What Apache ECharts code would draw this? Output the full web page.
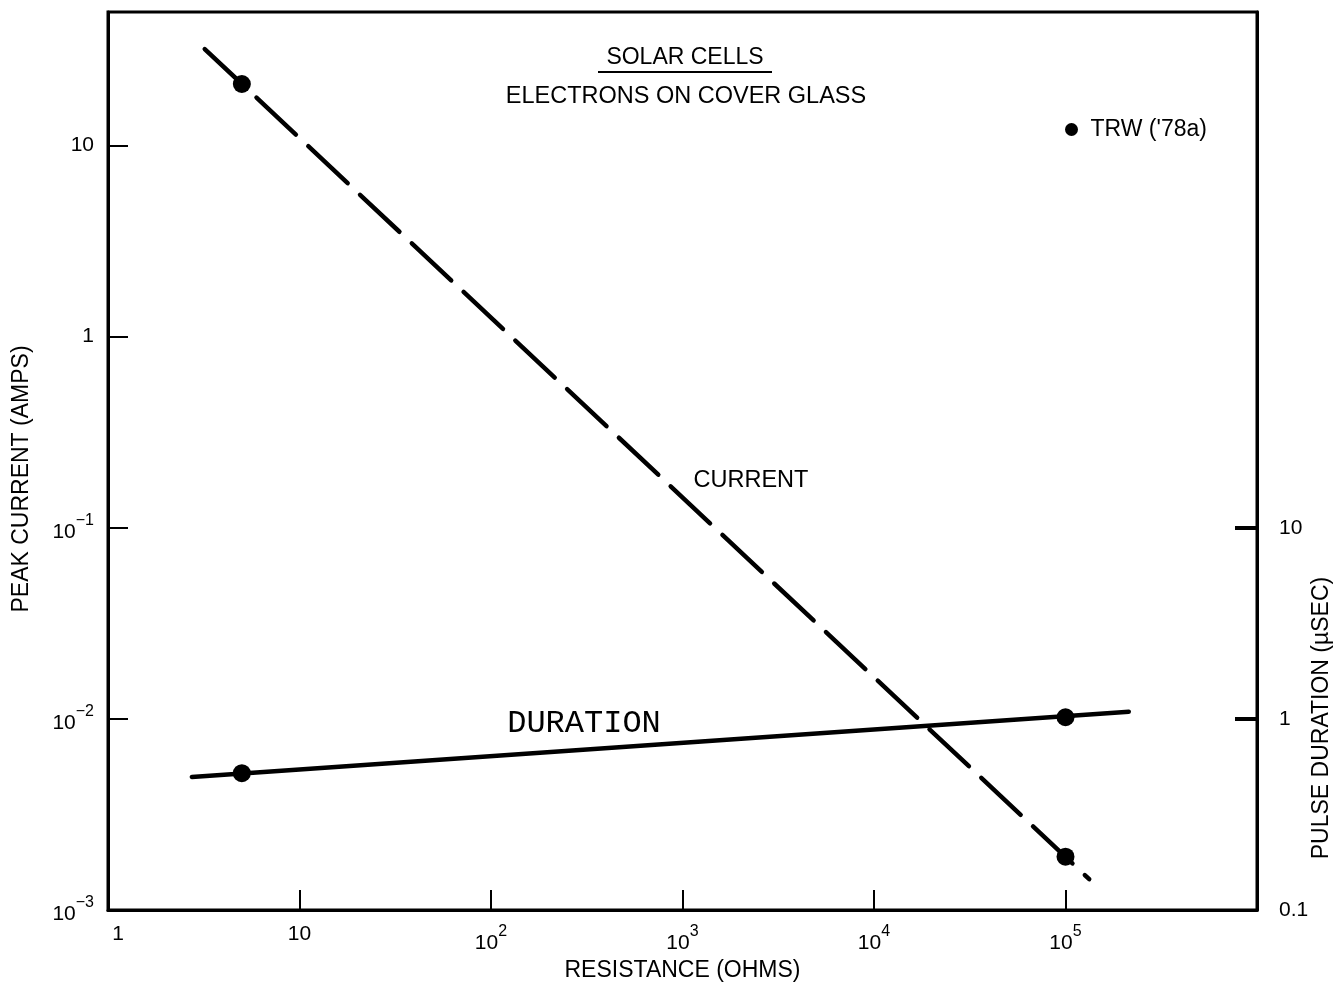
<!DOCTYPE html>
<html style="height: 100%">
<head>
    <meta charset="utf-8">
    <title>Solar cells - electrons on cover glass</title>
</head>
<body style="height: 100%; margin: 0; background: #fff">
    <div id="container" style="width:1340px;height:985px"></div>
    <script src="https://cdn.jsdelivr.net/npm/echarts@6/dist/echarts.min.js"></script>
    <script>
        // data (resistance in ohms)
        var currentLine = [[3.2, 32], [1.33e5, 1.45e-3]];      // dashed fit, amps
        var currentPts = [[5, 21], [1e5, 1.9e-3]];              // TRW points
        var durationLine = [[2.74, 0.497], [2.14e5, 1.09]];     // solid fit, usec
        var durationPts = [[5, 0.52], [1e5, 1.02]];
        var xTicks = [10, 100, 1e3, 1e4, 1e5];
        var xLabels = [1, 10, 100, 1e3, 1e4, 1e5];
        var yTicks = [0.01, 0.1, 1, 10];
        var yLabels = [0.001, 0.01, 0.1, 1, 10];
        var y2Ticks = [1, 10];
        var y2Labels = [0.1, 1, 10];

        var FONT = '"Liberation Sans", Arial, sans-serif';

        function powLabel(v) {
            var e = Math.round(Math.log10(v));
            if (e === 0) return '1';
            if (e === 1) return '10';
            return '{b|10}{s|' + (e < 0 ? '\u2212' : '') + Math.abs(e) + '}';
        }

        var rich = {
            b: { fontSize: 21, fontFamily: FONT, color: '#000', lineHeight: 30, verticalAlign: 'bottom' },
            s: { fontSize: 16, fontFamily: FONT, color: '#000', verticalAlign: 'top' },
            one: { fontSize: 21, fontFamily: FONT, color: '#000', padding: [0, 0, 0, 20] }
        };

        var dom = document.getElementById('container');
        var myChart = echarts.init(dom, null, { renderer: 'canvas' });

        var option = {
            backgroundColor: '#fff',
            animation: false,
            grid: {
                left: 108, right: 83, top: 12, bottom: 75,
                containLabel: false, outerBoundsMode: 'none',
                show: true, borderColor: '#000', borderWidth: 3
            },
            legend: {
                left: 1060, top: 113,
                icon: 'circle', itemWidth: 28, itemHeight: 13, itemGap: 8,
                textStyle: { fontSize: 23, fontFamily: FONT, color: '#000' },
                data: ["TRW ('78a)"]
            },
            xAxis: {
                type: 'log', logBase: 10, min: 1, max: 1e6,
                name: 'RESISTANCE (OHMS)', nameLocation: 'middle', nameGap: 49,
                nameTextStyle: { fontSize: 23, fontFamily: FONT, color: '#000' },
                axisLine: { lineStyle: { color: '#000', width: 3 } },
                axisTick: { inside: true, length: 20, customValues: xTicks, lineStyle: { color: '#000', width: 2 } },
                axisLabel: { customValues: xLabels, margin: 14, fontSize: 21, fontFamily: FONT, color: '#000',
                    formatter: function (v) { return v === 1 ? '{one|1}' : powLabel(v); }, rich: rich },
                splitLine: { show: false },
                minorTick: { show: false }
            },
            yAxis: [
                {
                    type: 'log', logBase: 10, min: 0.001, max: 50, position: 'left',
                    axisLine: { lineStyle: { color: '#000', width: 3 } },
                    axisTick: { inside: true, length: 20, customValues: yTicks, lineStyle: { color: '#000', width: 2 } },
                    axisLabel: { customValues: yLabels, margin: 14, fontSize: 21, fontFamily: FONT, color: '#000',
                        formatter: powLabel, rich: rich },
                    splitLine: { show: false }
                },
                {
                    type: 'log', logBase: 10, min: 0.1, max: 5000, position: 'right',
                    axisLine: { lineStyle: { color: '#000', width: 3 } },
                    axisTick: { inside: true, length: 22, customValues: y2Ticks, lineStyle: { color: '#000', width: 4 } },
                    axisLabel: { customValues: y2Labels, margin: 22, fontSize: 21, fontFamily: FONT, color: '#000',
                        formatter: function (v) { return v < 1 ? '0.1' : String(Math.round(v)); } },
                    splitLine: { show: false }
                }
            ],
            series: [
                {
                    name: 'current', type: 'line', yAxisIndex: 0, symbol: 'none',
                    lineStyle: { color: '#000', width: 4.5, type: [54, 17], cap: 'round' },
                    data: currentLine
                },
                {
                    name: 'duration', type: 'line', yAxisIndex: 1, symbol: 'none',
                    lineStyle: { color: '#000', width: 4.5, cap: 'round' },
                    data: durationLine
                },
                {
                    name: "TRW ('78a)", type: 'scatter', yAxisIndex: 0, symbolSize: 18,
                    itemStyle: { color: '#000', opacity: 1 },
                    data: currentPts
                },
                {
                    name: "TRW ('78a)", type: 'scatter', yAxisIndex: 1, symbolSize: 18,
                    itemStyle: { color: '#000', opacity: 1 },
                    data: durationPts
                }
            ],
            graphic: [
                { type: 'text', x: 685, y: 58,
                  style: { text: 'SOLAR CELLS', font: '23px ' + FONT, fill: '#000', align: 'center', verticalAlign: 'middle' } },
                { type: 'line', shape: { x1: 598, y1: 72, x2: 772, y2: 72 },
                  style: { stroke: '#000', lineWidth: 2 } },
                { type: 'text', x: 686, y: 97,
                  style: { text: 'ELECTRONS ON COVER GLASS', font: '23.5px ' + FONT, fill: '#000', align: 'center', verticalAlign: 'middle' } },
                { type: 'text', x: 751, y: 481,
                  style: { text: 'CURRENT', font: '23.5px ' + FONT, fill: '#000', align: 'center', verticalAlign: 'middle' } },
                { type: 'text', x: 584, y: 724,
                  style: { text: 'DURATION', font: '32px "Liberation Mono", "DejaVu Sans Mono", monospace', fill: '#000',
                           align: 'center', verticalAlign: 'middle' } },
                { type: 'text', x: 22, y: 479, rotation: Math.PI / 2,
                  style: { text: 'PEAK CURRENT (AMPS)', font: '23px ' + FONT, fill: '#000',
                           align: 'center', verticalAlign: 'middle' } },
                { type: 'text', x: 1322, y: 718, rotation: Math.PI / 2,
                  style: { text: 'PULSE DURATION (\u00b5SEC)', font: '23px ' + FONT, fill: '#000',
                           align: 'center', verticalAlign: 'middle' } }
            ]
        };

        myChart.setOption(option);
        window.addEventListener('resize', myChart.resize);
    </script>
</body>
</html>
